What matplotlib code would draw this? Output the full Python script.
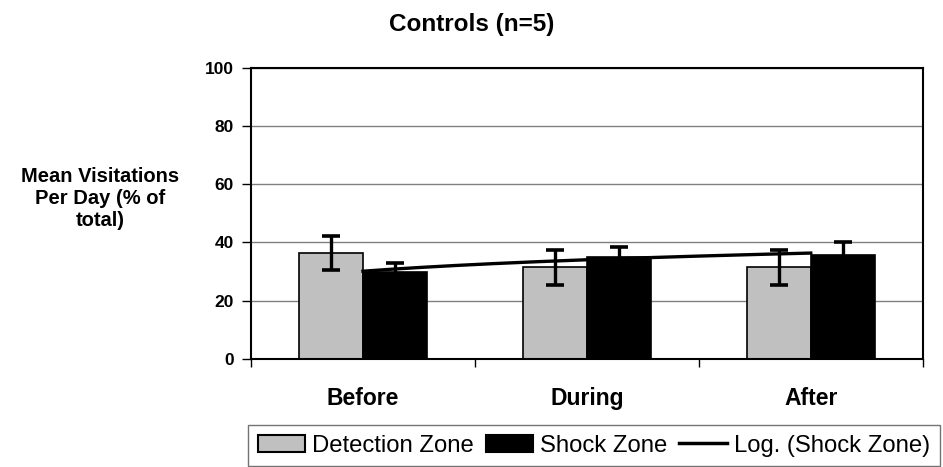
import numpy as np
import matplotlib
matplotlib.use("Agg")
import matplotlib.pyplot as plt
from matplotlib.patches import Patch
from matplotlib.lines import Line2D

plt.rcParams['font.family'] = ['Liberation Sans', 'DejaVu Sans']

categories = ["Before", "During", "After"]
detection = [36.5, 31.5, 31.5]
detection_err = [5.8, 6.0, 6.0]
shock = [29.8, 34.9, 35.8]
shock_err = [3.0, 3.5, 4.4]
y_ticks = [0, 20, 40, 60, 80, 100]
title = "Controls (n=5)"
ylabel = "Mean Visitations\nPer Day (% of\ntotal)"
legend_labels = ["Detection Zone", "Shock Zone", "Log. (Shock Zone)"]

W, H = 943, 467
fig = plt.figure(figsize=(W / 100, H / 100), dpi=100)
ax = fig.add_axes([251 / W, 1 - 359 / H, (922.7 - 251) / W, (359 - 67.5) / H])

x = np.arange(len(categories))
bw = 0.286
ax.bar(x - bw / 2, detection, bw, color='#C0C0C0', edgecolor='black', linewidth=1.2, zorder=2)
ax.bar(x + bw / 2, shock, bw, color='black', edgecolor='black', linewidth=1.2, zorder=2)
ax.errorbar(x - bw / 2, detection, yerr=detection_err, fmt='none', ecolor='black',
            elinewidth=2.4, capsize=6.5, capthick=2.6, zorder=3)
ax.errorbar(x + bw / 2, shock, yerr=shock_err, fmt='none', ecolor='black',
            elinewidth=2.4, capsize=6.5, capthick=2.6, zorder=3)

# logarithmic trendline fitted to Shock Zone (x = 1, 2, 3)
xn = np.arange(1, len(shock) + 1)
a, b = np.polyfit(np.log(xn), shock, 1)
xs = np.linspace(1, len(shock), 200)
ax.plot(xs - 1, a * np.log(xs) + b, color='black', lw=2.4, zorder=4)

ax.set_xlim(-0.5, len(categories) - 0.5)
ax.set_ylim(0, 100)
ax.set_yticks(y_ticks)
ax.set_yticklabels([str(t) for t in y_ticks], fontsize=12.5, fontweight='bold')
ax.yaxis.grid(True, color='#808080', lw=1)
ax.set_axisbelow(True)

ax.set_xticks(np.arange(-0.5, len(categories), 1.0))
ax.set_xticklabels([])
ax.set_xticks(x, minor=True)
ax.set_xticklabels(categories, minor=True, fontsize=16.5, fontweight='bold')
ax.tick_params(axis='x', which='major', direction='out', length=6, width=1)
ax.tick_params(axis='x', which='minor', length=0, pad=20)
ax.tick_params(axis='y', direction='out', length=6.5, width=1, pad=6)
for s in ax.spines.values():
    s.set_linewidth(1.5)
    s.set_color('black')

fig.text(0.5, 1 - 24 / H, title, ha='center', va='center', fontsize=17.5, fontweight='bold')
fig.text(100 / W, 1 - 198.5 / H, ylabel, ha='center', va='center', multialignment='center',
         fontsize=14.5, fontweight='bold', linespacing=1.22)

handles = [Patch(facecolor='#C0C0C0', edgecolor='black', linewidth=1.5),
           Patch(facecolor='black', edgecolor='black', linewidth=1.5),
           Line2D([0], [0], color='black', lw=2.5)]
leg = fig.legend(handles, legend_labels, loc='upper left', bbox_to_anchor=(248 / W, 1 - 425 / H),
                 ncol=3, fontsize=17.2, frameon=True, fancybox=False, borderaxespad=0,
                 handlelength=2.0, handletextpad=0.28, columnspacing=0.5, borderpad=0.4)
leg.get_frame().set_edgecolor('#505050')
leg.get_frame().set_linewidth(1.0)

fig.savefig('out.png', dpi=100)
